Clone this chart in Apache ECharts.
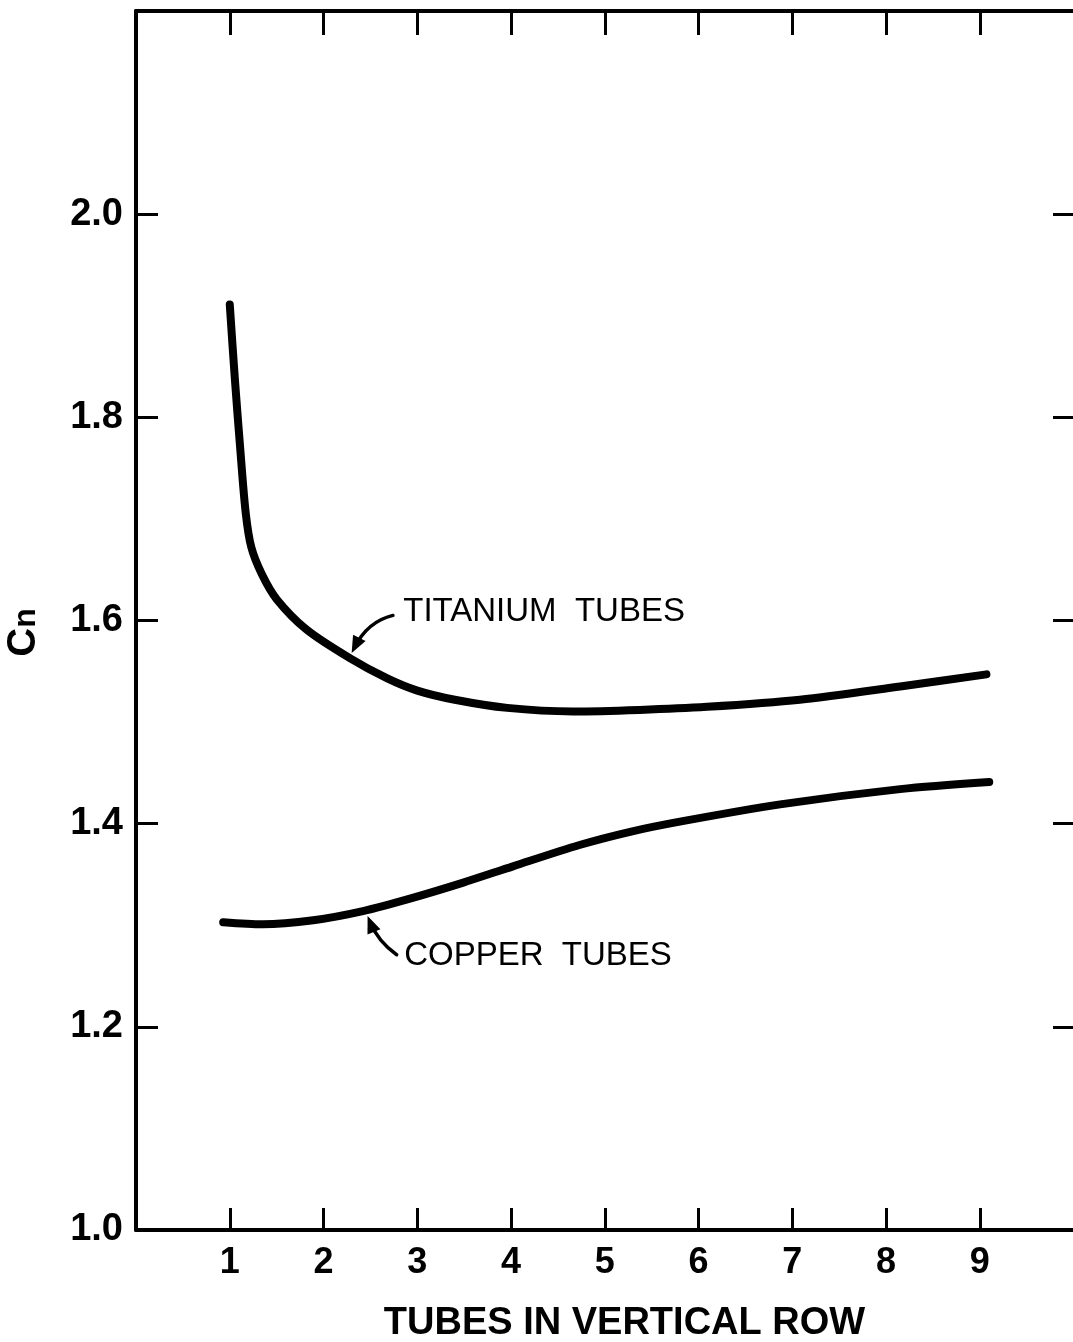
<!DOCTYPE html>
<html><head><meta charset="utf-8">
<script src="https://cdn.jsdelivr.net/npm/echarts@6/dist/echarts.min.js"></script>
<style>html,body{margin:0;padding:0;background:#fff;overflow:hidden}#chart{width:1073px;height:1342px}</style>
</head><body><div id="chart"></div>
<script>
// ---- data ----
const titaniumX = [1.00, 1.055, 1.11, 1.17, 1.23, 1.34, 1.50, 1.82, 2.28, 2.68, 3.00, 3.40, 3.96, 4.66, 5.37, 6.09, 7.08, 8.15, 9.07];
const titaniumY = [1.911, 1.837, 1.771, 1.706, 1.672, 1.646, 1.621, 1.591, 1.563, 1.543, 1.531, 1.522, 1.514, 1.5105, 1.512, 1.515, 1.522, 1.535, 1.547];
const copperX = [0.93, 1.35, 1.89, 2.42, 2.95, 3.49, 4.02, 4.73, 5.27, 5.80, 6.87, 8.15, 9.10];
const copperY = [1.303, 1.301, 1.305, 1.314, 1.327, 1.342, 1.358, 1.379, 1.392, 1.402, 1.419, 1.434, 1.441];
const xTickValues = [1, 2, 3, 4, 5, 6, 7, 8, 9];
const yTickValues = [1.2, 1.4, 1.6, 1.8, 2.0];
const yLabelValues = [1.0, 1.2, 1.4, 1.6, 1.8, 2.0];
const seriesLabels = ['TITANIUM  TUBES', 'COPPER  TUBES'];
const xAxisTitle = 'TUBES IN VERTICAL ROW';

// annotation anchors in data coordinates: [text left], [arrow start, control, tip]
const titaniumNote = { text: [2.85, 1.608], arrow: [[2.74, 1.605], [2.47, 1.599], [2.30, 1.568]] };
const copperNote = { text: [2.86, 1.270], arrow: [[2.78, 1.271], [2.58, 1.284], [2.47, 1.309]] };

const FONT = 'Liberation Sans, Arial, sans-serif';
const pairs = (xs, ys) => xs.map((x, i) => [x, ys[i]]);

const chart = echarts.init(document.getElementById('chart'), null, { renderer: 'canvas' });

const axisLineStyle = { color: '#000', width: 4 };
const tickStyle = { color: '#000', width: 3 };

chart.setOption({
  backgroundColor: '#fff',
  animation: false,
  grid: { left: 136, right: -10, top: 11, bottom: 112, containLabel: false, outerBoundsMode: 'none' },
  xAxis: [
    {
      type: 'value', position: 'bottom', min: 0, max: 10.1, interval: 1,
      axisLine: { show: true, onZero: false, lineStyle: axisLineStyle },
      axisTick: { show: true, inside: true, length: 22, lineStyle: tickStyle, customValues: xTickValues },
      axisLabel: { customValues: xTickValues, fontSize: 36, fontWeight: 'bold', color: '#000', margin: 15, fontFamily: FONT },
      splitLine: { show: false },
      name: xAxisTitle, nameLocation: 'middle', nameGap: 75,
      nameTextStyle: { fontSize: 38, fontWeight: 'bold', color: '#000', fontFamily: FONT, padding: [0, 0, 0, 30] }
    },
    {
      type: 'value', position: 'top', min: 0, max: 10.1, interval: 1,
      axisLine: { show: true, onZero: false, lineStyle: axisLineStyle },
      axisTick: { show: true, inside: true, length: 24, lineStyle: tickStyle, customValues: xTickValues },
      axisLabel: { show: false }, splitLine: { show: false }
    }
  ],
  yAxis: [
    {
      type: 'value', position: 'left', min: 1.0, max: 2.2, interval: 0.2,
      axisLine: { show: true, onZero: false, lineStyle: axisLineStyle },
      axisTick: { show: true, inside: true, length: 22, lineStyle: tickStyle, customValues: yTickValues },
      axisLabel: { customValues: yLabelValues, formatter: v => v.toFixed(1), fontSize: 38, fontWeight: 'bold', color: '#000', margin: 13, fontFamily: FONT },
      splitLine: { show: false },
      name: '{c|C}{n|n}', nameLocation: 'middle', nameRotate: 90, nameGap: 92,
      nameTextStyle: {
        color: '#000', fontFamily: FONT, padding: [0, 24, 0, 0],
        rich: {
          c: { fontSize: 40, fontWeight: 'bold', color: '#000', fontFamily: FONT },
          n: { fontSize: 32, fontWeight: 'bold', color: '#000', fontFamily: FONT, padding: [5, 0, 0, 0] }
        }
      }
    },
    {
      type: 'value', position: 'right', min: 1.0, max: 2.2, interval: 0.2,
      axisLine: { show: true, onZero: false, lineStyle: axisLineStyle },
      axisTick: { show: true, inside: true, length: 30, lineStyle: tickStyle, customValues: yTickValues },
      axisLabel: { show: false }, splitLine: { show: false }
    }
  ],
  series: [
    {
      name: seriesLabels[0], type: 'line', data: pairs(titaniumX, titaniumY),
      smooth: 0.3, symbol: 'none', lineStyle: { color: '#000', width: 8, cap: 'round', join: 'round' }
    },
    {
      name: seriesLabels[1], type: 'line', data: pairs(copperX, copperY),
      smooth: 0.3, symbol: 'none', lineStyle: { color: '#000', width: 8, cap: 'round', join: 'round' }
    }
  ]
});

function px(p) { return chart.convertToPixel({ xAxisIndex: 0, yAxisIndex: 0 }, p); }

function arrowGraphics(note, label) {
  const [a, c, t] = note.arrow.map(px);
  const dx = t[0] - c[0], dy = t[1] - c[1];
  const len = Math.hypot(dx, dy) || 1;
  const ux = dx / len, uy = dy / len;
  const hl = 17, hw = 7;
  const bx = t[0] - ux * hl, by = t[1] - uy * hl;
  const tp = px(note.text);
  return [
    { type: 'bezierCurve', shape: { x1: a[0], y1: a[1], x2: t[0] - ux * 6, y2: t[1] - uy * 6, cpx1: c[0], cpy1: c[1] },
      style: { stroke: '#000', lineWidth: 3.5, fill: null, lineCap: 'round' }, z: 10 },
    { type: 'polygon', shape: { points: [[t[0], t[1]], [bx - uy * hw, by + ux * hw], [bx + uy * hw, by - ux * hw]] },
      style: { fill: '#000' }, z: 10 },
    { type: 'text', x: tp[0], y: tp[1],
      style: { text: label, fontSize: 33, fontFamily: FONT, fill: '#000', align: 'left', verticalAlign: 'middle' }, z: 10 }
  ];
}

chart.setOption({
  graphic: { elements: [...arrowGraphics(titaniumNote, seriesLabels[0]), ...arrowGraphics(copperNote, seriesLabels[1])] }
});
</script>
</body></html>
